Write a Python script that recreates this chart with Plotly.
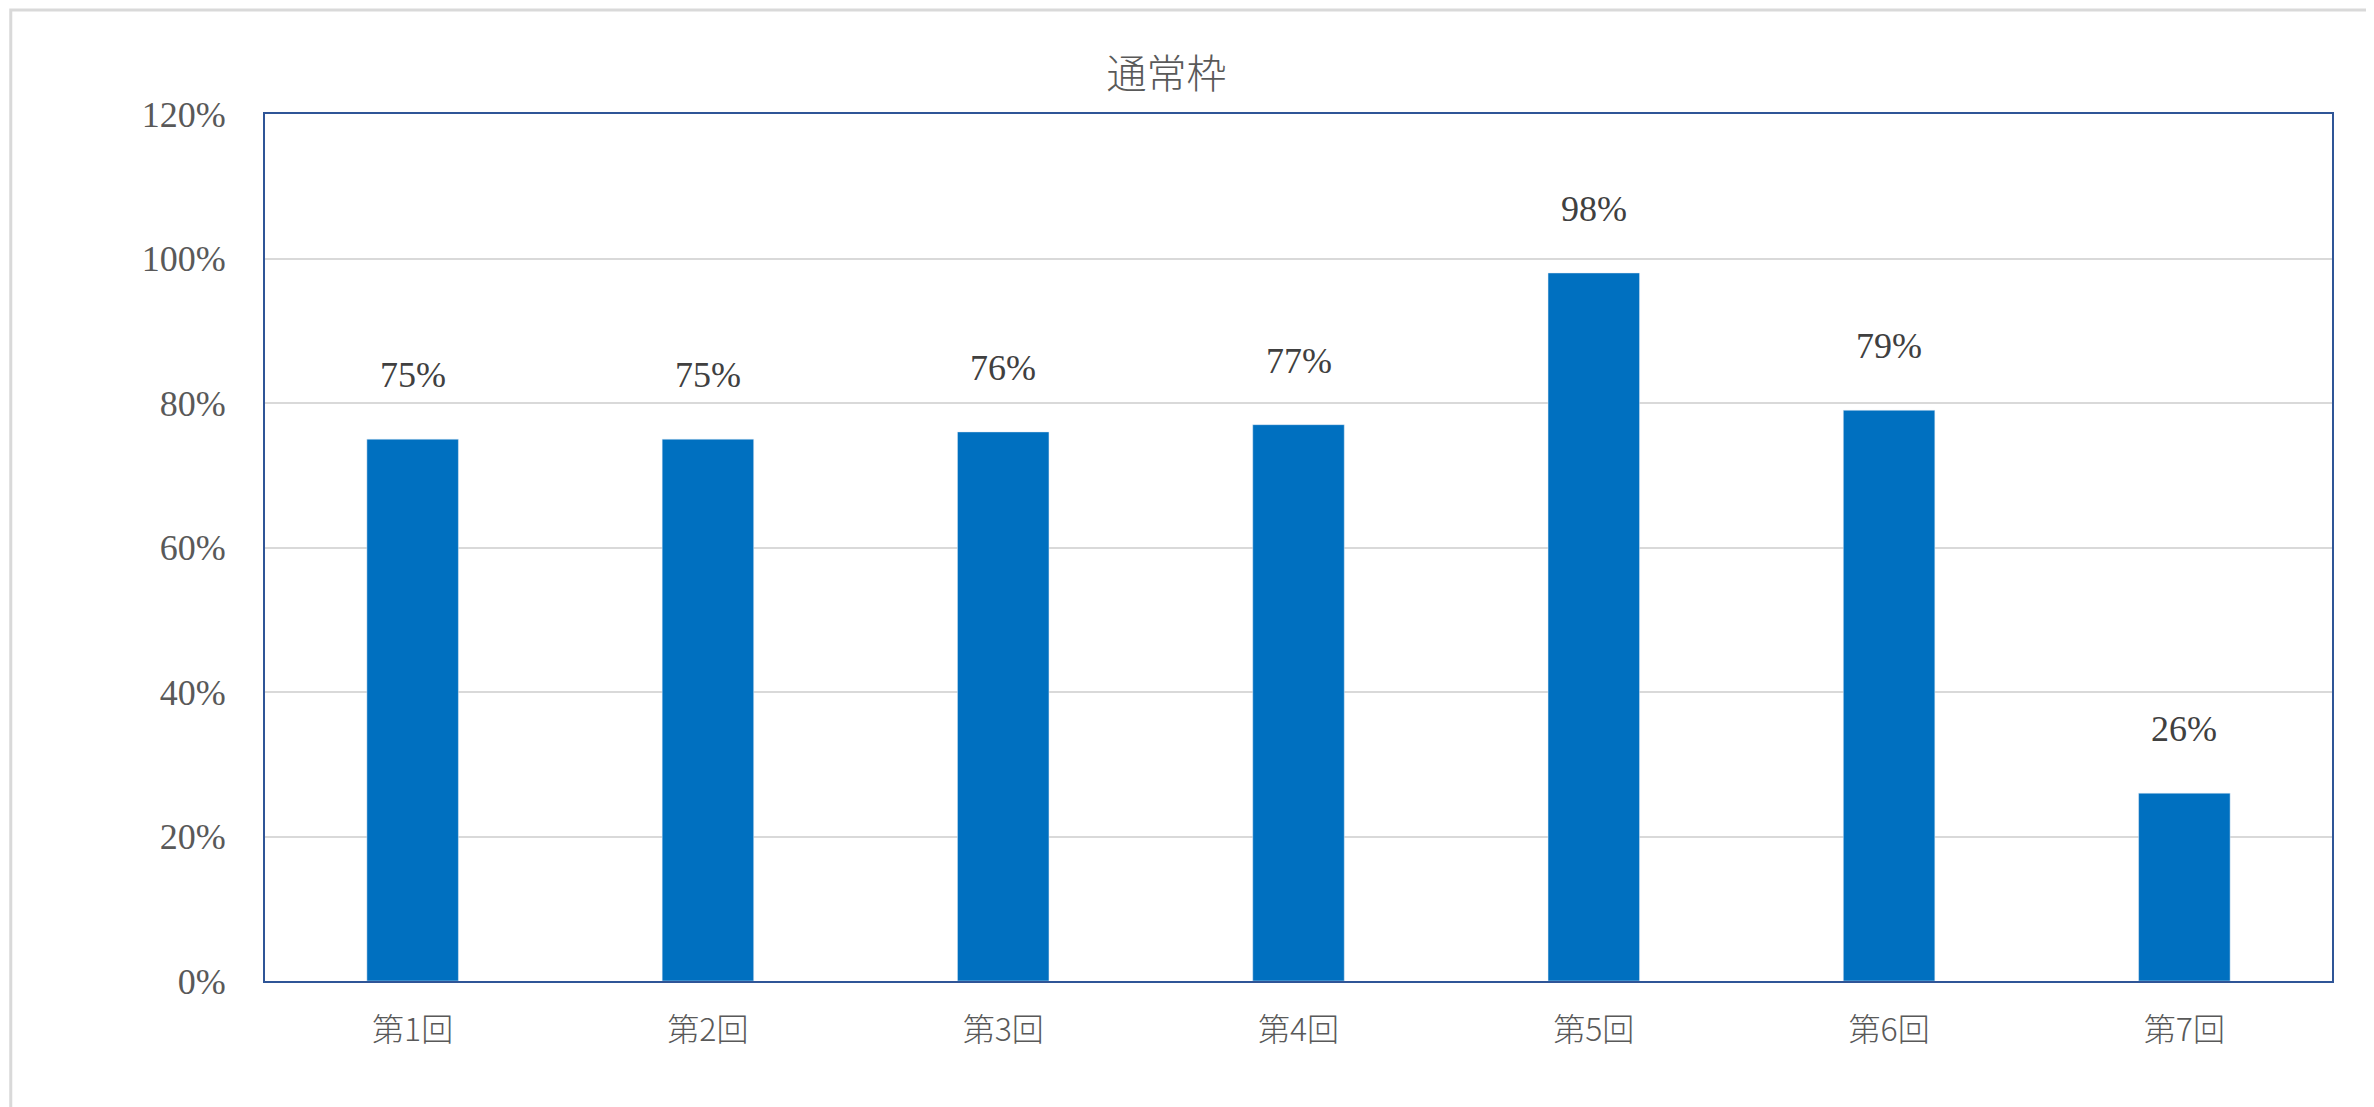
import plotly.graph_objects as go

rounds = ['第1回', '第2回', '第3回', '第4回', '第5回', '第6回', '第7回']
rates = [0.75, 0.75, 0.76, 0.77, 0.98, 0.79, 0.26]
labels = ['75%', '75%', '76%', '77%', '98%', '79%', '26%']

serif = 'Liberation Serif, Noto Sans CJK JP'

fig = go.Figure(go.Bar(x=rounds, y=rates, marker_color='#0070C0'))

for r, v, t in zip(rounds, rates, labels):
    fig.add_annotation(x=r, y=v, text=t, showarrow=False, yanchor='bottom', yshift=42,
                       font=dict(family=serif, size=36, color='#404040'))

fig.update_layout(
    width=2374, height=1107,
    paper_bgcolor='white', plot_bgcolor='white',
    margin=dict(l=257, r=50, t=106, b=134),
    bargap=0.69,
    showlegend=False,
    title=dict(text='通常枠', x=0.488, xanchor='center', y=0.94, yanchor='middle',
               font=dict(family='Noto Sans CJK JP', size=40, color='#595959', weight=300)),
    font=dict(family=serif, color='#595959'),
)
fig.update_xaxes(showline=True, linecolor='#2F5597', linewidth=2, mirror=True,
                 tickfont=dict(family='Noto Sans CJK JP', size=32, color='#595959', weight=300),
                 ticks='', ticklabelstandoff=20)
fig.update_yaxes(range=[0, 1.2], dtick=0.2, tickformat='.0%',
                 showline=True, linecolor='#2F5597', linewidth=2, mirror=True,
                 gridcolor='#D9D9D9', gridwidth=2, zeroline=False,
                 tickfont=dict(family=serif, size=36, color='#595959'),
                 ticklabelstandoff=30)
fig.add_shape(type='rect', xref='paper', yref='paper', x0=-0.123, x1=1.022, y0=-0.152, y1=1.12,
              line=dict(color='#D9D9D9', width=3))

fig.write_html('out.html')
